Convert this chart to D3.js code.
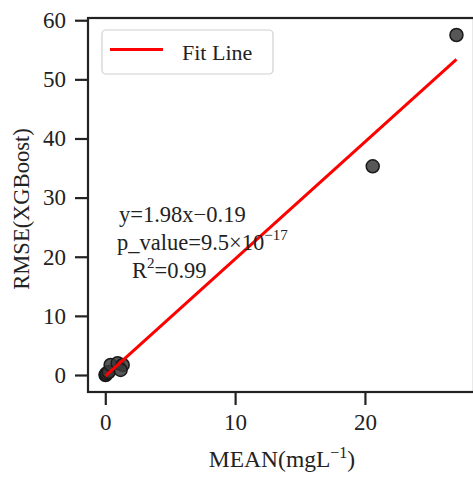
<!DOCTYPE html>
<html>
<head>
<meta charset="utf-8">
<script src="https://cdn.jsdelivr.net/npm/d3@7"></script>
<style>
  html, body { margin: 0; padding: 0; background: #fff; }
  svg { display: block; }
</style>
</head>
<body>
<svg id="chart" width="473" height="477"></svg>
<script>
// Observed MEAN values and the XGBoost RMSE at each site
const meanValues = [0.02, 0.05, 0.12, 0.26, 0.41, 0.95, 1.34, 1.18, 20.6, 27.05];
const rmseValues = [0.0, 0.1, 0.3, 0.5, 1.7, 2.0, 1.7, 0.85, 35.3, 57.5];

// Linear fit reported in the annotation
const slope = 1.98;
const intercept = -0.19;

const xTicks = [0, 10, 20];
const yTicks = [0, 10, 20, 30, 40, 50, 60];
const annotationLines = ["y=1.98x\u22120.19", "p_value=9.5\u00d710", "R"];

const SERIF = '"Liberation Serif", "Times New Roman", Tinos, serif';
const INK = "#222";

const svg = d3.select("#chart");
const plot = { left: 88, right: 474, top: 18, bottom: 392 };

const xMin = d3.min(meanValues), xMax = d3.max(meanValues);
const yMin = d3.min(rmseValues), yMax = d3.max(rmseValues);
const xPad = (xMax - xMin) * 0.05, yPad = (yMax - yMin) * 0.05;

const x = d3.scaleLinear().domain([xMin - xPad, xMax + xPad]).range([plot.left, plot.right]);
const y = d3.scaleLinear().domain([yMin - yPad, yMax + yPad]).range([plot.bottom, plot.top]);

// Axes
const xAxis = svg.append("g")
  .attr("transform", `translate(0,${plot.bottom})`)
  .call(d3.axisBottom(x).tickValues(xTicks).tickSize(13).tickPadding(9));
const yAxis = svg.append("g")
  .attr("transform", `translate(${plot.left},0)`)
  .call(d3.axisLeft(y).tickValues(yTicks).tickSize(13).tickPadding(9));
[xAxis, yAxis].forEach(g => {
  g.select(".domain").remove();
  g.selectAll(".tick line").attr("stroke", INK).attr("stroke-width", 2.2);
  g.selectAll(".tick text")
    .style("font-family", SERIF).style("font-size", "23px").style("fill", INK);
});

// Frame
svg.append("rect")
  .attr("x", plot.left).attr("y", plot.top)
  .attr("width", plot.right - plot.left).attr("height", plot.bottom - plot.top)
  .attr("fill", "none").attr("stroke", INK).attr("stroke-width", 2.2);

// Scatter points
svg.append("g").selectAll("circle")
  .data(meanValues.map((m, i) => ({ m, r: rmseValues[i] })))
  .join("circle")
  .attr("cx", d => x(d.m))
  .attr("cy", d => y(d.r))
  .attr("r", 6.5)
  .attr("fill", "#3a3a3a")
  .attr("fill-opacity", 0.85)
  .attr("stroke", "#1a1a1a")
  .attr("stroke-width", 1.5);

// Fit line across the observed range
const fitX = [xMin, xMax];
svg.append("line")
  .attr("x1", x(fitX[0])).attr("y1", y(slope * fitX[0] + intercept))
  .attr("x2", x(fitX[1])).attr("y2", y(slope * fitX[1] + intercept))
  .attr("stroke", "#ff0000").attr("stroke-width", 3);

function label(sel, size) {
  return sel.style("font-family", SERIF).style("font-size", size + "px").style("fill", INK);
}

// Fit statistics
label(svg.append("text").attr("x", 119).attr("y", 222), 22.5).text(annotationLines[0]);
const p = label(svg.append("text").attr("x", 117).attr("y", 250), 22.5);
p.append("tspan").text(annotationLines[1]);
p.append("tspan").attr("dy", -10).style("font-size", "15px").text("\u221217");
const r2 = label(svg.append("text").attr("x", 132).attr("y", 278), 22.5);
r2.append("tspan").text(annotationLines[2]);
r2.append("tspan").attr("dy", -10).style("font-size", "15px").text("2");
r2.append("tspan").attr("dy", 10).text("=0.99");

// Legend
const legend = svg.append("g");
legend.append("rect")
  .attr("x", 102).attr("y", 30).attr("width", 171).attr("height", 44)
  .attr("rx", 4).attr("fill", "#fff").attr("fill-opacity", 0.8)
  .attr("stroke", "#d0d0d0").attr("stroke-width", 1.2);
legend.append("line")
  .attr("x1", 110).attr("x2", 163).attr("y1", 49.5).attr("y2", 49.5)
  .attr("stroke", "#ff0000").attr("stroke-width", 3);
label(legend.append("text").attr("x", 182).attr("y", 60), 22).text("Fit Line");

// Axis titles
const xTitle = label(svg.append("text")
  .attr("x", 282).attr("y", 467).attr("text-anchor", "middle"), 23.5);
xTitle.append("tspan").text("MEAN(mgL");
xTitle.append("tspan").attr("dy", -9).style("font-size", "16px").text("\u22121");
xTitle.append("tspan").attr("dy", 9).text(")");

label(svg.append("text")
  .attr("transform", "translate(29,209) rotate(-90)")
  .attr("text-anchor", "middle"), 22.5)
  .text("RMSE(XGBoost)");
</script>
</body>
</html>
